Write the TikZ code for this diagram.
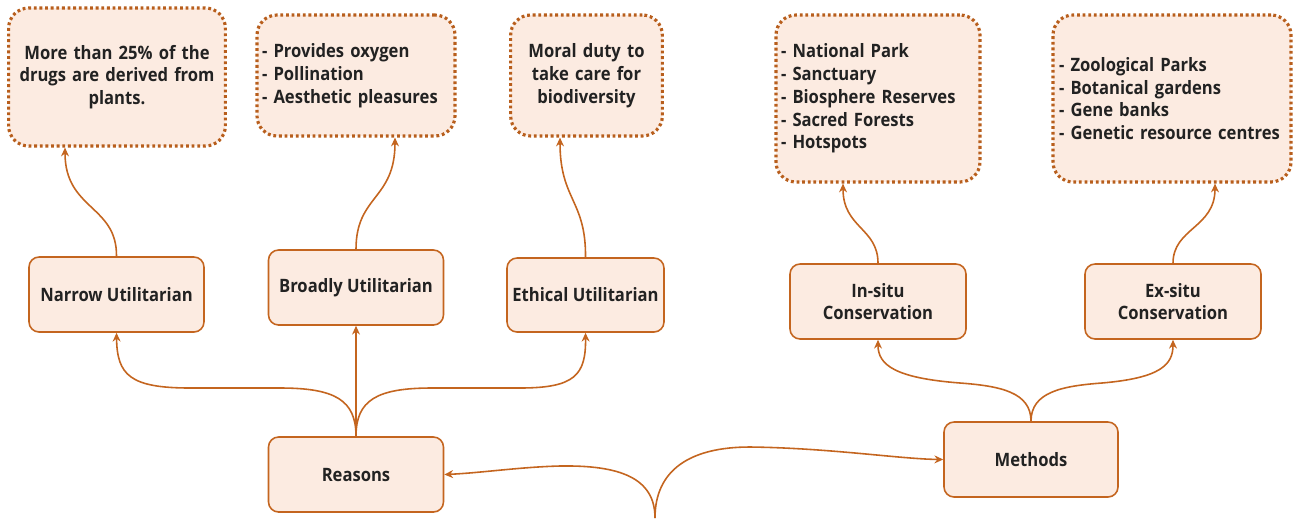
\documentclass[tikz,border=0pt]{standalone}
\usepackage{fontspec}
\setmainfont{Open Sans}[FakeStretch=0.9]
\usetikzlibrary{arrows.meta}
\definecolor{lc}{HTML}{C4651F}
\definecolor{dc}{HTML}{B85E1C}
\definecolor{bg}{HTML}{FCEBE1}
\definecolor{tx}{HTML}{222222}
\tikzset{
  solidbox/.style={draw=lc, fill=bg, rounded corners=0.2cm, line width=0.9pt, align=center,
     minimum height=1.5cm, text=tx, font=\fontsize{10.5}{13}\selectfont\bfseries, inner sep=0pt},
  dotbox/.style={draw=dc, fill=bg, rounded corners=0.4cm, line width=1.8pt,
     dash pattern=on 1.6pt off 1.6pt, text=tx, font=\fontsize{10.5}{13}\selectfont\bfseries, inner ysep=0pt},
  conn/.style={draw=lc, line width=0.9pt, -{Stealth[length=5pt,width=4.5pt]}},
}
\begin{document}
\begin{tikzpicture}[x=0.02cm, y=-0.02cm]
\useasboundingbox[fill=white] (0,0) rectangle (1294,518);
% dotted boxes
\node[dotbox, minimum width=4.28cm, minimum height=2.76cm, text width=4.1cm, align=center] (a) at (117,77)
  {More than 25\% of the\\ drugs are derived from\\ plants.};
\node[dotbox, minimum width=3.96cm, minimum height=2.42cm, inner xsep=0.1cm, text width=3.76cm, align=left] (b) at (356,75.5)
  {- Provides oxygen\\ - Pollination\\ - Aesthetic pleasures};
\node[dotbox, minimum width=3.02cm, minimum height=2.42cm, text width=2.8cm, align=center] (c) at (586.5,75.5)
  {Moral duty to\\ take care for\\ biodiversity};
\node[dotbox, minimum width=4.08cm, minimum height=3.34cm, inner xsep=0.1cm, text width=3.88cm, align=left] (d) at (878,98.5)
  {- National Park\\ - Sanctuary\\ - Biosphere Reserves\\ - Sacred Forests\\ - Hotspots};
\node[dotbox, minimum width=4.76cm, minimum height=3.34cm, inner xsep=0.12cm, text width=4.52cm, align=left] (e) at (1172,98.5)
  {- Zoological Parks\\ - Botanical gardens\\ - Gene banks\\ \mbox{- Genetic resource centres}\\[13pt]};
% solid boxes
\node[solidbox, minimum width=3.5cm] (n) at (116.5,294.5) {Narrow Utilitarian};
\node[solidbox, minimum width=3.5cm] (bu) at (356,287.5) {Broadly Utilitarian};
\node[solidbox, minimum width=3.14cm, minimum height=1.48cm] (eu) at (585.5,295) {Ethical Utilitarian};
\node[solidbox, minimum width=3.52cm] (in) at (878,301.5) {In-situ\\ Conservation};
\node[solidbox, minimum width=3.52cm] (ex) at (1173,301.5) {Ex-situ\\ Conservation};
\node[solidbox, minimum width=3.5cm] (r) at (356,474.5) {Reasons};
\node[solidbox, minimum width=3.48cm] (m) at (1031,459.5) {Methods};
\coordinate (o) at (655,518);
% upward connectors to dotted boxes
\draw[conn] (n.north) .. controls (117,205) and (65,210) .. ([xshift=-1.04cm]a.south);
\draw[conn] (bu.north) .. controls (356,195) and (395,200) .. ([xshift=0.78cm]b.south);
\draw[conn] (eu.north) .. controls (586,200) and (560,200) .. ([xshift=-0.53cm]c.south);
\draw[conn] (in.north) .. controls (878,228) and (843,228) .. ([xshift=-0.7cm]d.south);
\draw[conn] (ex.north) .. controls (1173,228) and (1215,228) .. ([xshift=0.86cm]e.south);
% reasons branches
\draw[conn] (r.north) .. controls (356,400) and (335,388) .. (280,388) -- (190,388) .. controls (130,388) and (117,375) .. (n.south);
\draw[conn] (r.north) -- (bu.south);
\draw[conn] (r.north) .. controls (356,400) and (377,388) .. (432,388) -- (520,388) .. controls (575,388) and (586,375) .. (eu.south);
% methods branches
\draw[conn] (m.north) .. controls (1031,392) and (1000,386) .. (960,383) .. controls (895,378) and (878,365) .. (in.south);
\draw[conn] (m.north) .. controls (1031,392) and (1062,386) .. (1102,383) .. controls (1160,378) and (1173,365) .. (ex.south);
% bottom branches
\draw[conn] (o) .. controls (655,478) and (620,465) .. (560,466) .. controls (520,467) and (480,473) .. (r.east);
\draw[conn] (o) .. controls (655,470) and (690,447) .. (750,447) .. controls (830,448) and (900,459) .. (m.west);
\end{tikzpicture}
\end{document}
